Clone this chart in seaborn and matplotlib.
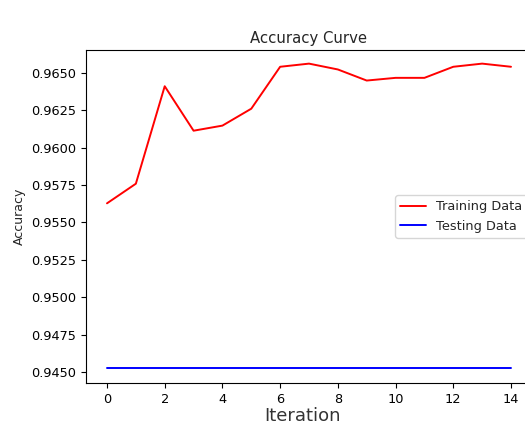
import matplotlib
matplotlib.use("Agg")
import matplotlib.pyplot as plt
import seaborn as sns
import pandas as pd

iterations = list(range(15))
training_acc = [0.95628, 0.95759, 0.9641, 0.96113, 0.96147, 0.9626, 0.9654, 0.96561,
                0.96522, 0.96448, 0.96466, 0.96466, 0.9654, 0.96561, 0.9654]
testing_acc = [0.94527] * 15
yticks = [0.9450, 0.9475, 0.9500, 0.9525, 0.9550, 0.9575, 0.9600, 0.9625, 0.9650]
xticks = [0, 2, 4, 6, 8, 10, 12, 14]

sns.set_style("ticks")
plt.rcParams['font.family'] = ['DejaVu Sans']

df = pd.DataFrame({
    "Iteration": iterations * 2,
    "Accuracy": training_acc + testing_acc,
    "Series": ["Training Data"] * 15 + ["Testing Data"] * 15,
})

W, H = 525, 433
ax_left, ax_right, ax_top, ax_bottom = 86, 545, 50, 383
axw = ax_right - ax_left
fig = plt.figure(figsize=(W / 100, H / 100), dpi=100)
ax = fig.add_axes([ax_left / W, 1 - ax_bottom / H, axw / W, (ax_bottom - ax_top) / H])
sns.lineplot(data=df, x="Iteration", y="Accuracy", hue="Series",
             palette={"Training Data": "red", "Testing Data": "blue"},
             linewidth=1.4, ax=ax)
ppu = (511 - 107) / 14.0
ax.set_xlim(-(107 - ax_left) / ppu, 14 + (ax_right - 511) / ppu)
ax.set_xticks(xticks)
ax.set_yticks(yticks)
ax.set_yticklabels([f"{v:.4f}" for v in yticks])
ax.set_ylim(0.94428, 0.96652)
ax.tick_params(labelsize=9.3, length=3.5, width=0.8, colors="black")
for s in ax.spines.values():
    s.set_linewidth(0.8)
    s.set_color("black")
ax.set_title("Accuracy Curve", fontsize=10.7, pad=5, x=(308.5 - ax_left) / axw)
ax.set_ylabel("Accuracy", fontsize=9)
ax.set_xlabel("Iteration", fontsize=13, color="#333333")
ax.xaxis.set_label_coords((303 - ax_left) / axw, -(416 - ax_bottom) / (ax_bottom - ax_top))
ax.xaxis.label.set_va("center")
leg = ax.legend(loc="center left", bbox_to_anchor=((395 - ax_left) / axw, 0.5),
                fontsize=9.3, frameon=True, fancybox=True, borderaxespad=0)
leg.set_title(None)

fig.savefig("out.png", dpi=100)
